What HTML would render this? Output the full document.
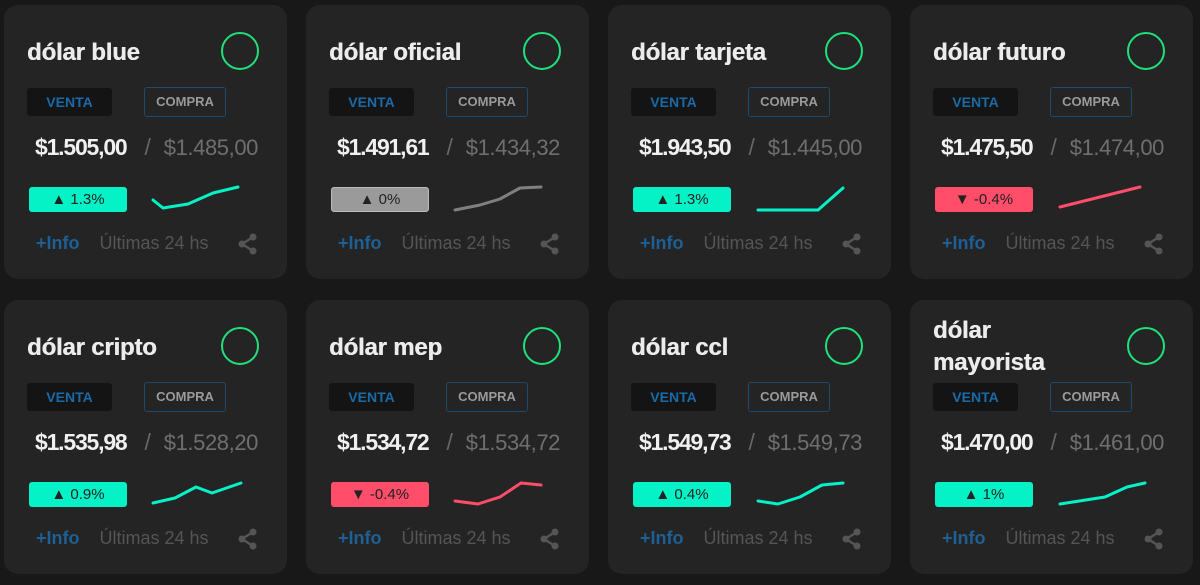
<!DOCTYPE html>
<html><head><meta charset="utf-8"><style>
*{margin:0;padding:0;box-sizing:border-box}
body{width:1200px;height:585px;background:#181818;position:relative;overflow:hidden;font-family:"Liberation Sans",sans-serif}
.c{position:absolute;width:283px;height:274px;background:#242424;border-radius:14px}
.t{position:absolute;left:23px;top:34px;font-size:24px;font-weight:bold;color:#ececec;line-height:28px;letter-spacing:-0.2px;text-shadow:0.4px 0 0 #ececec}
.o{position:absolute;left:217px;top:27px;width:38px;height:38px;border:2px solid #1fe07a;border-radius:50%}
.v{position:absolute;left:23px;top:83px;width:85px;height:28px;background:#141414;border-radius:3px;color:#1a6aa8;font-weight:bold;font-size:14px;line-height:28px;text-align:center}
.p{position:absolute;left:140px;top:82px;width:82px;height:30px;border:1.5px solid #1d4a6e;border-radius:3px;color:#9a9a9a;font-weight:bold;font-size:13px;line-height:27px;text-align:center}
.pr{position:absolute;left:31px;top:127px;line-height:30px;font-size:23px;font-weight:bold;color:#f0f0f0;letter-spacing:-1.2px;white-space:nowrap}
.pr span{color:#6f6f6f;font-weight:normal;font-size:22px;letter-spacing:-0.4px}
.pr i{font-style:normal;color:#666;font-weight:normal;margin:0 14px 0 18px}
.b{position:absolute;left:25px;top:182px;width:98px;height:25px;border-radius:3px;background:#05f2c7;color:#222;font-size:15px;line-height:25px;text-align:center}
.b.g{background:#9a9a9a;border:1px solid #bbb;line-height:23px}
.b.r{background:#ff4d6a}
.f{position:absolute;top:226px;line-height:24px;font-size:18px;left:32px;width:240px;white-space:nowrap}
.f b{color:#1e5f94}
.f span{color:#555;margin-left:20px}
.s{position:absolute;left:233px;top:228px}
</style></head><body>

<div class="c" style="left:4px;top:5px"><div class="t">dólar blue</div><div class="o"></div><div class="v">VENTA</div><div class="p">COMPRA</div><div class="pr">$1.505,00<i>/</i><span>$1.485,00</span></div><div class="b">▲ 1.3%</div><div class="f"><b>+Info</b><span>Últimas 24 hs</span></div><svg class="s" width="22" height="22" viewBox="0 0 22 22"><g fill="#555"><circle cx="16" cy="4" r="3.5"/><circle cx="5" cy="11" r="3.5"/><circle cx="16" cy="18" r="3.5"/></g><path d="M16 4L5 11L16 18" stroke="#555" stroke-width="2.5" fill="none"/></svg></div>

<div class="c" style="left:306px;top:5px"><div class="t">dólar oficial</div><div class="o"></div><div class="v">VENTA</div><div class="p">COMPRA</div><div class="pr">$1.491,61<i>/</i><span>$1.434,32</span></div><div class="b g">▲ 0%</div><div class="f"><b>+Info</b><span>Últimas 24 hs</span></div><svg class="s" width="22" height="22" viewBox="0 0 22 22"><g fill="#555"><circle cx="16" cy="4" r="3.5"/><circle cx="5" cy="11" r="3.5"/><circle cx="16" cy="18" r="3.5"/></g><path d="M16 4L5 11L16 18" stroke="#555" stroke-width="2.5" fill="none"/></svg></div>

<div class="c" style="left:608px;top:5px"><div class="t">dólar tarjeta</div><div class="o"></div><div class="v">VENTA</div><div class="p">COMPRA</div><div class="pr">$1.943,50<i>/</i><span>$1.445,00</span></div><div class="b">▲ 1.3%</div><div class="f"><b>+Info</b><span>Últimas 24 hs</span></div><svg class="s" width="22" height="22" viewBox="0 0 22 22"><g fill="#555"><circle cx="16" cy="4" r="3.5"/><circle cx="5" cy="11" r="3.5"/><circle cx="16" cy="18" r="3.5"/></g><path d="M16 4L5 11L16 18" stroke="#555" stroke-width="2.5" fill="none"/></svg></div>

<div class="c" style="left:910px;top:5px"><div class="t">dólar futuro</div><div class="o"></div><div class="v">VENTA</div><div class="p">COMPRA</div><div class="pr">$1.475,50<i>/</i><span>$1.474,00</span></div><div class="b r">▼ -0.4%</div><div class="f"><b>+Info</b><span>Últimas 24 hs</span></div><svg class="s" width="22" height="22" viewBox="0 0 22 22"><g fill="#555"><circle cx="16" cy="4" r="3.5"/><circle cx="5" cy="11" r="3.5"/><circle cx="16" cy="18" r="3.5"/></g><path d="M16 4L5 11L16 18" stroke="#555" stroke-width="2.5" fill="none"/></svg></div>

<div class="c" style="left:4px;top:300px"><div class="t">dólar cripto</div><div class="o"></div><div class="v">VENTA</div><div class="p">COMPRA</div><div class="pr">$1.535,98<i>/</i><span>$1.528,20</span></div><div class="b">▲ 0.9%</div><div class="f"><b>+Info</b><span>Últimas 24 hs</span></div><svg class="s" width="22" height="22" viewBox="0 0 22 22"><g fill="#555"><circle cx="16" cy="4" r="3.5"/><circle cx="5" cy="11" r="3.5"/><circle cx="16" cy="18" r="3.5"/></g><path d="M16 4L5 11L16 18" stroke="#555" stroke-width="2.5" fill="none"/></svg></div>

<div class="c" style="left:306px;top:300px"><div class="t">dólar mep</div><div class="o"></div><div class="v">VENTA</div><div class="p">COMPRA</div><div class="pr">$1.534,72<i>/</i><span>$1.534,72</span></div><div class="b r">▼ -0.4%</div><div class="f"><b>+Info</b><span>Últimas 24 hs</span></div><svg class="s" width="22" height="22" viewBox="0 0 22 22"><g fill="#555"><circle cx="16" cy="4" r="3.5"/><circle cx="5" cy="11" r="3.5"/><circle cx="16" cy="18" r="3.5"/></g><path d="M16 4L5 11L16 18" stroke="#555" stroke-width="2.5" fill="none"/></svg></div>

<div class="c" style="left:608px;top:300px"><div class="t">dólar ccl</div><div class="o"></div><div class="v">VENTA</div><div class="p">COMPRA</div><div class="pr">$1.549,73<i>/</i><span>$1.549,73</span></div><div class="b">▲ 0.4%</div><div class="f"><b>+Info</b><span>Últimas 24 hs</span></div><svg class="s" width="22" height="22" viewBox="0 0 22 22"><g fill="#555"><circle cx="16" cy="4" r="3.5"/><circle cx="5" cy="11" r="3.5"/><circle cx="16" cy="18" r="3.5"/></g><path d="M16 4L5 11L16 18" stroke="#555" stroke-width="2.5" fill="none"/></svg></div>

<div class="c" style="left:910px;top:300px"><div class="t" style="top:15px;line-height:32px">dólar<br>mayorista</div><div class="o"></div><div class="v">VENTA</div><div class="p">COMPRA</div><div class="pr">$1.470,00<i>/</i><span>$1.461,00</span></div><div class="b">▲ 1%</div><div class="f"><b>+Info</b><span>Últimas 24 hs</span></div><svg class="s" width="22" height="22" viewBox="0 0 22 22"><g fill="#555"><circle cx="16" cy="4" r="3.5"/><circle cx="5" cy="11" r="3.5"/><circle cx="16" cy="18" r="3.5"/></g><path d="M16 4L5 11L16 18" stroke="#555" stroke-width="2.5" fill="none"/></svg></div>

<svg style="position:absolute;left:0;top:0" width="1200" height="585" fill="none" stroke-width="3" stroke-linejoin="round" stroke-linecap="round">
<polyline stroke="#05f2c7" points="153,200 163,208 188,204 213,193 238,187"/>
<polyline stroke="#808080" points="455,210 480,205 500,199 520,188 541,187"/>
<polyline stroke="#05f2c7" points="758,210 818,210 843,188"/>
<polyline stroke="#ff4d6a" points="1060,207 1140,187"/>
<polyline stroke="#05f2c7" points="153,503 175,498 196,487 212,493 241,483"/>
<polyline stroke="#ff4d6a" points="455,501 478,504 500,497 521,483 541,485"/>
<polyline stroke="#05f2c7" points="758,501 778,504 800,497 822,485 843,483"/>
<polyline stroke="#05f2c7" points="1060,504 1105,497 1127,487 1145,483"/>
</svg>
</body></html>
